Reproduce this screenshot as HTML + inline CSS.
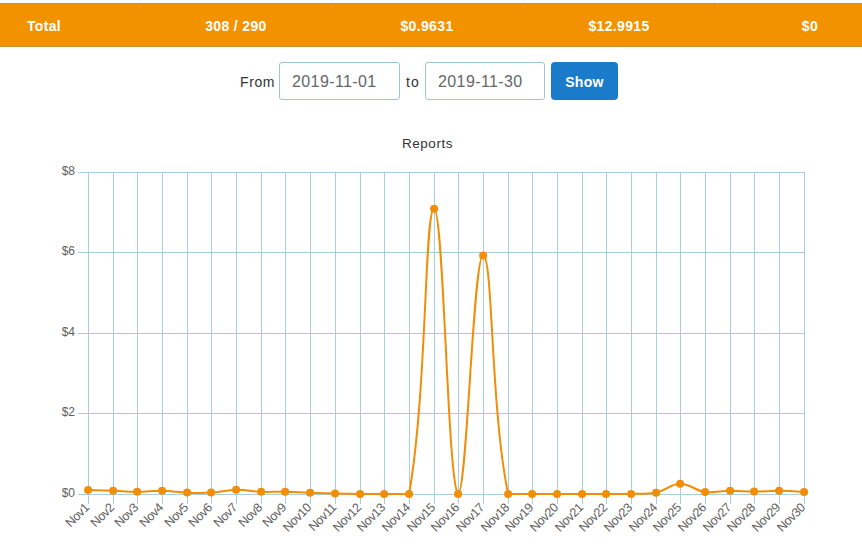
<!DOCTYPE html>
<html><head><meta charset="utf-8">
<style>
html,body{margin:0;padding:0;background:#fff;width:862px;height:553px;overflow:hidden;position:relative;font-family:"Liberation Sans",sans-serif;}
.band{position:absolute;left:0;top:3px;width:862px;height:44px;background:#f39200;border-top:1px solid #d98b22;border-bottom:1px solid #d48a2e;box-sizing:border-box;}
.vl{position:absolute;top:0;width:1px;height:3px;background:#f0f0f0;}
.ht{position:absolute;top:16px;width:192px;margin-left:-96px;text-align:center;color:#fff;font-weight:bold;font-size:14px;line-height:20px;letter-spacing:0.35px;}
.lbl{position:absolute;font-size:14px;color:#333;line-height:20px;}
.inp{position:absolute;top:62px;height:38px;box-sizing:border-box;border:1px solid #a0c5d2;border-radius:3px;background:#fff;}
.inp span{position:absolute;left:12px;letter-spacing:0.4px;top:9px;font-size:16px;color:#666;line-height:20px;}
.btn{position:absolute;left:551px;top:62px;width:67px;height:38px;background:#1b7bcb;border-radius:4px;color:#fff;font-weight:bold;font-size:14px;text-align:center;line-height:40px;letter-spacing:0.3px;}
.title{position:absolute;left:327px;width:201px;top:135px;text-align:center;font-size:13.5px;letter-spacing:0.5px;color:#333;line-height:18px;}
svg text{font-family:"Liberation Sans",sans-serif;}
</style></head><body>
<div class="vl" style="left:139px"></div>
<div class="vl" style="left:331px"></div>
<div class="vl" style="left:523px"></div>
<div class="vl" style="left:714px"></div>
<div class="band"></div>
<div class="ht" style="left:44px">Total</div>
<div class="ht" style="left:236px">308 / 290</div>
<div class="ht" style="left:427px">$0.9631</div>
<div class="ht" style="left:619px">$12.9915</div>
<div class="ht" style="left:810px">$0</div>
<div class="lbl" style="left:240px;top:72px;letter-spacing:0.6px">From</div>
<div class="inp" style="left:279px;width:121px"><span>2019-11-01</span></div>
<div class="lbl" style="left:406px;top:72px;letter-spacing:1.2px">to</div>
<div class="inp" style="left:425px;width:120px"><span>2019-11-30</span></div>
<div class="btn">Show</div>
<div class="title">Reports</div>
<svg width="862" height="553" style="position:absolute;left:0;top:0">
<rect x="78" y="494" width="727" height="1" fill="#a8cedc"/>
<rect x="78" y="413" width="727" height="1" fill="#a8cedc"/>
<rect x="78" y="333" width="727" height="1" fill="#a8cedc"/>
<rect x="78" y="252" width="727" height="1" fill="#a8cedc"/>
<rect x="78" y="172" width="727" height="1" fill="#a8cedc"/>
<rect x="88" y="172" width="1" height="332" fill="#a8cedc"/>
<rect x="113" y="172" width="1" height="332" fill="#a8cedc"/>
<rect x="137" y="172" width="1" height="332" fill="#a8cedc"/>
<rect x="162" y="172" width="1" height="332" fill="#a8cedc"/>
<rect x="187" y="172" width="1" height="332" fill="#a8cedc"/>
<rect x="211" y="172" width="1" height="332" fill="#a8cedc"/>
<rect x="236" y="172" width="1" height="332" fill="#a8cedc"/>
<rect x="261" y="172" width="1" height="332" fill="#a8cedc"/>
<rect x="285" y="172" width="1" height="332" fill="#a8cedc"/>
<rect x="310" y="172" width="1" height="332" fill="#a8cedc"/>
<rect x="335" y="172" width="1" height="332" fill="#a8cedc"/>
<rect x="360" y="172" width="1" height="332" fill="#a8cedc"/>
<rect x="384" y="172" width="1" height="332" fill="#a8cedc"/>
<rect x="409" y="172" width="1" height="332" fill="#a8cedc"/>
<rect x="434" y="172" width="1" height="332" fill="#a8cedc"/>
<rect x="458" y="172" width="1" height="332" fill="#a8cedc"/>
<rect x="483" y="172" width="1" height="332" fill="#a8cedc"/>
<rect x="508" y="172" width="1" height="332" fill="#a8cedc"/>
<rect x="532" y="172" width="1" height="332" fill="#a8cedc"/>
<rect x="557" y="172" width="1" height="332" fill="#a8cedc"/>
<rect x="582" y="172" width="1" height="332" fill="#a8cedc"/>
<rect x="606" y="172" width="1" height="332" fill="#a8cedc"/>
<rect x="631" y="172" width="1" height="332" fill="#a8cedc"/>
<rect x="656" y="172" width="1" height="332" fill="#a8cedc"/>
<rect x="680" y="172" width="1" height="332" fill="#a8cedc"/>
<rect x="705" y="172" width="1" height="332" fill="#a8cedc"/>
<rect x="730" y="172" width="1" height="332" fill="#a8cedc"/>
<rect x="754" y="172" width="1" height="332" fill="#a8cedc"/>
<rect x="779" y="172" width="1" height="332" fill="#a8cedc"/>
<rect x="804" y="172" width="1" height="332" fill="#a8cedc"/>
<text x="75" y="496.70" text-anchor="end" font-size="12" fill="#5e5e5e">$0</text>
<text x="75" y="415.70" text-anchor="end" font-size="12" fill="#5e5e5e">$2</text>
<text x="75" y="335.70" text-anchor="end" font-size="12" fill="#5e5e5e">$4</text>
<text x="75" y="254.70" text-anchor="end" font-size="12" fill="#5e5e5e">$6</text>
<text x="75" y="174.70" text-anchor="end" font-size="12" fill="#5e5e5e">$8</text>
<text transform="translate(87.00 505.5) rotate(-45)" x="0" y="4.2" text-anchor="end" font-size="12.5" letter-spacing="-0.45" fill="#5e5e5e">Nov1</text>
<text transform="translate(112.00 505.5) rotate(-45)" x="0" y="4.2" text-anchor="end" font-size="12.5" letter-spacing="-0.45" fill="#5e5e5e">Nov2</text>
<text transform="translate(136.00 505.5) rotate(-45)" x="0" y="4.2" text-anchor="end" font-size="12.5" letter-spacing="-0.45" fill="#5e5e5e">Nov3</text>
<text transform="translate(161.00 505.5) rotate(-45)" x="0" y="4.2" text-anchor="end" font-size="12.5" letter-spacing="-0.45" fill="#5e5e5e">Nov4</text>
<text transform="translate(186.00 505.5) rotate(-45)" x="0" y="4.2" text-anchor="end" font-size="12.5" letter-spacing="-0.45" fill="#5e5e5e">Nov5</text>
<text transform="translate(210.00 505.5) rotate(-45)" x="0" y="4.2" text-anchor="end" font-size="12.5" letter-spacing="-0.45" fill="#5e5e5e">Nov6</text>
<text transform="translate(235.00 505.5) rotate(-45)" x="0" y="4.2" text-anchor="end" font-size="12.5" letter-spacing="-0.45" fill="#5e5e5e">Nov7</text>
<text transform="translate(260.00 505.5) rotate(-45)" x="0" y="4.2" text-anchor="end" font-size="12.5" letter-spacing="-0.45" fill="#5e5e5e">Nov8</text>
<text transform="translate(284.00 505.5) rotate(-45)" x="0" y="4.2" text-anchor="end" font-size="12.5" letter-spacing="-0.45" fill="#5e5e5e">Nov9</text>
<text transform="translate(309.00 505.5) rotate(-45)" x="0" y="4.2" text-anchor="end" font-size="12.5" letter-spacing="-0.45" fill="#5e5e5e">Nov10</text>
<text transform="translate(334.00 505.5) rotate(-45)" x="0" y="4.2" text-anchor="end" font-size="12.5" letter-spacing="-0.45" fill="#5e5e5e">Nov11</text>
<text transform="translate(359.00 505.5) rotate(-45)" x="0" y="4.2" text-anchor="end" font-size="12.5" letter-spacing="-0.45" fill="#5e5e5e">Nov12</text>
<text transform="translate(383.00 505.5) rotate(-45)" x="0" y="4.2" text-anchor="end" font-size="12.5" letter-spacing="-0.45" fill="#5e5e5e">Nov13</text>
<text transform="translate(408.00 505.5) rotate(-45)" x="0" y="4.2" text-anchor="end" font-size="12.5" letter-spacing="-0.45" fill="#5e5e5e">Nov14</text>
<text transform="translate(433.00 505.5) rotate(-45)" x="0" y="4.2" text-anchor="end" font-size="12.5" letter-spacing="-0.45" fill="#5e5e5e">Nov15</text>
<text transform="translate(457.00 505.5) rotate(-45)" x="0" y="4.2" text-anchor="end" font-size="12.5" letter-spacing="-0.45" fill="#5e5e5e">Nov16</text>
<text transform="translate(482.00 505.5) rotate(-45)" x="0" y="4.2" text-anchor="end" font-size="12.5" letter-spacing="-0.45" fill="#5e5e5e">Nov17</text>
<text transform="translate(507.00 505.5) rotate(-45)" x="0" y="4.2" text-anchor="end" font-size="12.5" letter-spacing="-0.45" fill="#5e5e5e">Nov18</text>
<text transform="translate(531.00 505.5) rotate(-45)" x="0" y="4.2" text-anchor="end" font-size="12.5" letter-spacing="-0.45" fill="#5e5e5e">Nov19</text>
<text transform="translate(556.00 505.5) rotate(-45)" x="0" y="4.2" text-anchor="end" font-size="12.5" letter-spacing="-0.45" fill="#5e5e5e">Nov20</text>
<text transform="translate(581.00 505.5) rotate(-45)" x="0" y="4.2" text-anchor="end" font-size="12.5" letter-spacing="-0.45" fill="#5e5e5e">Nov21</text>
<text transform="translate(605.00 505.5) rotate(-45)" x="0" y="4.2" text-anchor="end" font-size="12.5" letter-spacing="-0.45" fill="#5e5e5e">Nov22</text>
<text transform="translate(630.00 505.5) rotate(-45)" x="0" y="4.2" text-anchor="end" font-size="12.5" letter-spacing="-0.45" fill="#5e5e5e">Nov23</text>
<text transform="translate(655.00 505.5) rotate(-45)" x="0" y="4.2" text-anchor="end" font-size="12.5" letter-spacing="-0.45" fill="#5e5e5e">Nov24</text>
<text transform="translate(679.00 505.5) rotate(-45)" x="0" y="4.2" text-anchor="end" font-size="12.5" letter-spacing="-0.45" fill="#5e5e5e">Nov25</text>
<text transform="translate(704.00 505.5) rotate(-45)" x="0" y="4.2" text-anchor="end" font-size="12.5" letter-spacing="-0.45" fill="#5e5e5e">Nov26</text>
<text transform="translate(729.00 505.5) rotate(-45)" x="0" y="4.2" text-anchor="end" font-size="12.5" letter-spacing="-0.45" fill="#5e5e5e">Nov27</text>
<text transform="translate(753.00 505.5) rotate(-45)" x="0" y="4.2" text-anchor="end" font-size="12.5" letter-spacing="-0.45" fill="#5e5e5e">Nov28</text>
<text transform="translate(778.00 505.5) rotate(-45)" x="0" y="4.2" text-anchor="end" font-size="12.5" letter-spacing="-0.45" fill="#5e5e5e">Nov29</text>
<text transform="translate(803.00 505.5) rotate(-45)" x="0" y="4.2" text-anchor="end" font-size="12.5" letter-spacing="-0.45" fill="#5e5e5e">Nov30</text>
<path d="M88.10 489.90 C88.10 489.90 103.10 490.41 113.10 490.80 C122.70 491.17 127.50 491.80 137.10 491.80 C147.10 491.80 152.11 490.64 162.10 490.80 C172.11 490.96 177.09 492.23 187.10 492.60 C196.69 492.95 201.53 493.17 211.10 492.60 C221.13 492.01 226.08 489.86 236.10 489.70 C246.08 489.54 251.08 491.37 261.10 491.80 C270.68 492.21 275.50 491.60 285.10 491.80 C295.10 492.00 300.10 492.44 310.10 492.80 C320.10 493.16 325.10 493.38 335.10 493.60 C345.10 493.82 350.10 493.84 360.10 493.90 C369.70 493.90 374.50 493.90 384.10 493.90 C394.10 493.90 407.49 493.90 409.10 493.90 C427.49 389.02 424.30 208.80 434.10 208.80 C443.90 208.80 447.44 483.74 458.10 493.90 C467.04 493.90 473.10 255.50 483.10 255.50 C493.10 255.50 490.28 407.22 508.10 493.90 C509.88 493.90 522.50 493.90 532.10 493.90 C542.10 493.90 547.10 493.90 557.10 493.90 C567.10 493.90 572.10 493.90 582.10 493.90 C591.70 493.90 596.50 493.90 606.10 493.90 C616.10 493.90 621.11 493.90 631.10 493.90 C641.11 493.66 646.41 493.90 656.10 492.70 C666.01 490.66 670.43 483.94 680.10 483.80 C690.03 483.66 694.85 490.59 705.10 492.00 C714.85 493.35 720.10 490.78 730.10 490.70 C739.70 490.62 744.50 491.60 754.10 491.60 C764.10 491.60 769.10 490.62 779.10 490.70 C789.10 490.78 804.10 492.00 804.10 492.00" fill="none" stroke="#f18e08" stroke-width="2"/>
<circle cx="88.10" cy="489.90" r="4" fill="#f18e08"/>
<circle cx="113.10" cy="490.80" r="4" fill="#f18e08"/>
<circle cx="137.10" cy="491.80" r="4" fill="#f18e08"/>
<circle cx="162.10" cy="490.80" r="4" fill="#f18e08"/>
<circle cx="187.10" cy="492.60" r="4" fill="#f18e08"/>
<circle cx="211.10" cy="492.60" r="4" fill="#f18e08"/>
<circle cx="236.10" cy="489.70" r="4" fill="#f18e08"/>
<circle cx="261.10" cy="491.80" r="4" fill="#f18e08"/>
<circle cx="285.10" cy="491.80" r="4" fill="#f18e08"/>
<circle cx="310.10" cy="492.80" r="4" fill="#f18e08"/>
<circle cx="335.10" cy="493.60" r="4" fill="#f18e08"/>
<circle cx="360.10" cy="493.90" r="4" fill="#f18e08"/>
<circle cx="384.10" cy="493.90" r="4" fill="#f18e08"/>
<circle cx="409.10" cy="493.90" r="4" fill="#f18e08"/>
<circle cx="434.10" cy="208.80" r="4" fill="#f18e08"/>
<circle cx="458.10" cy="493.90" r="4" fill="#f18e08"/>
<circle cx="483.10" cy="255.50" r="4" fill="#f18e08"/>
<circle cx="508.10" cy="493.90" r="4" fill="#f18e08"/>
<circle cx="532.10" cy="493.90" r="4" fill="#f18e08"/>
<circle cx="557.10" cy="493.90" r="4" fill="#f18e08"/>
<circle cx="582.10" cy="493.90" r="4" fill="#f18e08"/>
<circle cx="606.10" cy="493.90" r="4" fill="#f18e08"/>
<circle cx="631.10" cy="493.90" r="4" fill="#f18e08"/>
<circle cx="656.10" cy="492.70" r="4" fill="#f18e08"/>
<circle cx="680.10" cy="483.80" r="4" fill="#f18e08"/>
<circle cx="705.10" cy="492.00" r="4" fill="#f18e08"/>
<circle cx="730.10" cy="490.70" r="4" fill="#f18e08"/>
<circle cx="754.10" cy="491.60" r="4" fill="#f18e08"/>
<circle cx="779.10" cy="490.70" r="4" fill="#f18e08"/>
<circle cx="804.10" cy="492.00" r="4" fill="#f18e08"/>
</svg>
</body></html>
